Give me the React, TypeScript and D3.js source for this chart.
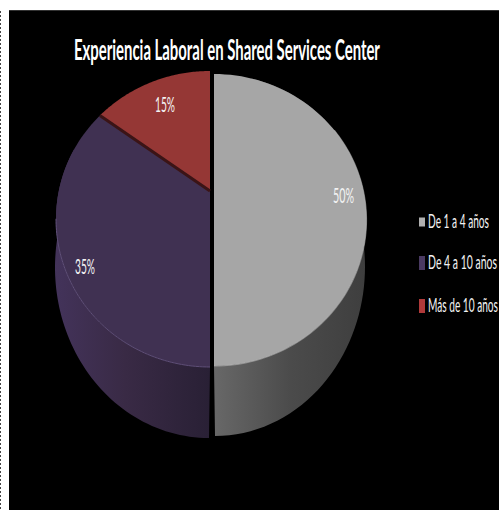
import React, { useLayoutEffect, useRef } from "react";
import * as d3 from "d3";

const categories = ["De 1 a 4 años", "De 4 a 10 años", "Más de 10 años"];
const shares = [50, 35, 15];
const percentLabels = ["50%", "35%", "15%"];
const topColors = ["#a6a6a6", "#403152", "#953735"];
const legendColors = ["#b0b0b0", "#4a3a62", "#b03a3a"];
const chartTitle = "Experiencia Laboral en Shared Services Center";

const WIDTH = 499;
const HEIGHT = 510;
const PERSPECTIVE = -0.189;
const TAU = Math.PI * 2;
const FONT = "Lato, 'Open Sans', sans-serif";

type Rim = { cx: number; top: number; bottom: number; halfWidth: number };

// Faces of each slice: the half that sits forward of the others is nudged right.
const faceRims: Rim[] = [
  { cx: 214, top: 74, bottom: 366, halfWidth: 152.5 },
  { cx: 210, top: 71, bottom: 367, halfWidth: 154 },
  { cx: 210, top: 71, bottom: 367, halfWidth: 154 },
];
const baseRims: Rim[] = [
  { cx: 215, top: 97, bottom: 436, halfWidth: 150 },
  { cx: 209, top: 97, bottom: 438, halfWidth: 154 },
  { cx: 209, top: 97, bottom: 438, halfWidth: 154 },
];

// Maps a point of the flat disc (angle clockwise from 12 o'clock, radial
// fraction u) through a one-point perspective onto the page.
function project(rim: Rim, angle: number, u = 1): [number, number] {
  const c = PERSPECTIVE;
  const a = (rim.bottom * (1 + c) - rim.top * (1 - c)) / 2;
  const b = (rim.bottom * (1 + c) + rim.top * (1 - c)) / 2;
  const r = rim.halfWidth * Math.sqrt(1 - c * c);
  const t = -Math.cos(angle) * u;
  const s = Math.sin(angle) * u;
  const w = c * t + 1;
  return [rim.cx + (r * s) / w, (a * t + b) / w];
}

const pieAngles = d3
  .pie<number>()
  .sort(null)
  .value((d) => d)(shares);

const toPath = d3.line<[number, number]>();
const sweep = (from: number, to: number, n = 72) => d3.range(n + 1).map((i) => from + ((to - from) * i) / n);

function facePath(i: number) {
  const { startAngle, endAngle } = pieAngles[i];
  const pts = sweep(startAngle, endAngle).map((t) => project(faceRims[i], t));
  return toPath([project(faceRims[i], startAngle, 0), ...pts]) + "Z";
}

function sidePath(i: number, from: number, to: number) {
  const upper = sweep(from, to).map((t) => project(faceRims[i], t));
  const lower = sweep(to, from).map((t) => project(baseRims[i], t));
  return toPath([...upper, ...lower]) + "Z";
}

// Text condensed horizontally so that it occupies a given width at a given height.
function FittedText(props: {
  x: number;
  y: number;
  width: number;
  size: number;
  weight?: number;
  fill: string;
  children: string;
}) {
  const ref = useRef<SVGTextElement>(null);
  useLayoutEffect(() => {
    const el = ref.current;
    if (!el) return;
    const natural = el.getComputedTextLength();
    el.setAttribute("transform", `translate(${props.x} ${props.y}) scale(${props.width / natural} 1)`);
  }, [props.x, props.y, props.width]);
  return (
    <text ref={ref} fontFamily={FONT} fontSize={props.size} fontWeight={props.weight ?? 400} fill={props.fill}>
      {props.children}
    </text>
  );
}

export default function App() {
  const xGradient = d3.scaleLinear().domain([0, WIDTH]).range([0, WIDTH]);
  const front = pieAngles[1];
  const divider = [project(faceRims[2], pieAngles[2].startAngle, 0), project(faceRims[2], pieAngles[2].startAngle)];
  const purpleEdge = sweep(front.startAngle, TAU * 0.72).map((t) => project(faceRims[1], t));
  const grayEdge = sweep(0.17 * TAU, 0.5 * TAU).map((t) => project(faceRims[0], t));
  const legendY = [222, 263, 306];
  const legendHeights = [9, 14, 14];
  const legendWidths = [61, 69, 70];
  const labelPos: [number, number, number][] = [
    [333, 203, 21],
    [75, 274, 20],
    [155, 112, 20],
  ];

  return (
    <svg
      width={WIDTH}
      height={HEIGHT}
      viewBox={`0 0 ${WIDTH} ${HEIGHT}`}
      style={{ position: "absolute", left: 0, top: 0, display: "block" }}
    >
      <defs>
        <linearGradient id="sideGray" gradientUnits="userSpaceOnUse" x1={xGradient(214)} x2={xGradient(367)} y1={0} y2={0}>
          <stop offset="0" stopColor="#686868" />
          <stop offset="0.5" stopColor="#4b4b4b" />
          <stop offset="1" stopColor="#3e3e3e" />
        </linearGradient>
        <linearGradient id="sidePurple" gradientUnits="userSpaceOnUse" x1={xGradient(56)} x2={xGradient(210)} y1={0} y2={0}>
          <stop offset="0" stopColor="#43335a" />
          <stop offset="0.45" stopColor="#392a45" />
          <stop offset="1" stopColor="#292035" />
        </linearGradient>
      </defs>

      <rect width={WIDTH} height={HEIGHT} fill="#ffffff" />
      <line x1={0.5} x2={0.5} y1={11} y2={HEIGHT} stroke="#444444" strokeWidth={1} strokeDasharray="2 2" />
      <rect x={9} y={10} width={WIDTH - 9} height={HEIGHT - 10} fill="#000000" />
      <line x1={9} x2={WIDTH} y1={10.5} y2={10.5} stroke="#333333" />

      <path d={sidePath(1, front.startAngle, TAU * 0.8)} fill="url(#sidePurple)" />
      <path d={sidePath(0, pieAngles[0].startAngle + 0.3, pieAngles[0].endAngle)} fill="url(#sideGray)" />

      {pieAngles.map((_, i) => (
        <path key={categories[i]} d={facePath(i)} fill={topColors[i]} />
      ))}

      <path d={toPath(divider) ?? ""} stroke="#3b1416" strokeWidth={3} fill="none" />
      <path d={toPath(purpleEdge) ?? ""} stroke="#5f4f78" strokeWidth={1} fill="none" />
      <path d={toPath(grayEdge) ?? ""} stroke="#b4b4b4" strokeWidth={1.2} fill="none" opacity={0.6} />

      <FittedText x={74} y={60} width={306} size={29} weight={700} fill="#ffffff">
        {chartTitle}
      </FittedText>

      {percentLabels.map((label, i) => (
        <FittedText key={label} x={labelPos[i][0]} y={labelPos[i][1]} width={labelPos[i][2]} size={21} fill="#f2f2f2">
          {label}
        </FittedText>
      ))}

      {categories.map((name, i) => (
        <g key={name}>
          <rect x={419} y={legendY[i] - legendHeights[i] / 2} width={6} height={legendHeights[i]} fill={legendColors[i]} />
          <FittedText x={428} y={legendY[i] + 6} width={legendWidths[i]} size={19} fill="#f2f2f2">
            {name}
          </FittedText>
        </g>
      ))}
    </svg>
  );
}
